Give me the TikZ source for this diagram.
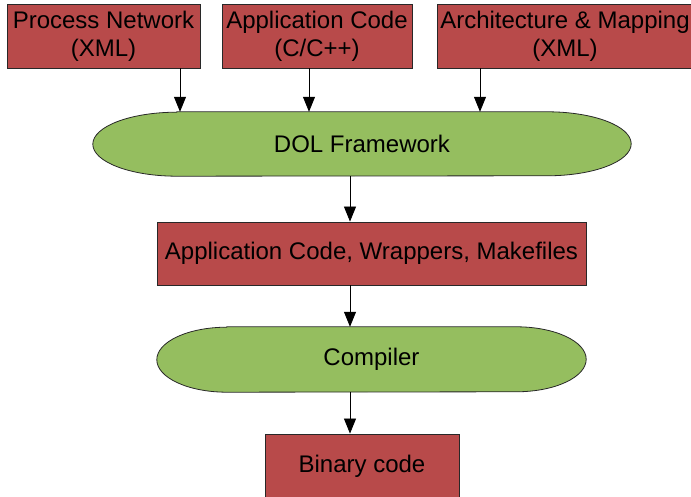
\documentclass[tikz,border=0pt]{standalone}
\usepackage{fontspec}
\setmainfont{Liberation Sans}
\usetikzlibrary{arrows.meta,backgrounds}
\definecolor{boxred}{RGB}{184,74,74}
\definecolor{capgreen}{RGB}{149,190,95}
\definecolor{edge}{RGB}{40,40,40}
\begin{document}
\begin{tikzpicture}[x=1pt,y=1pt,
  every node/.style={inner sep=0pt,align=center,font=\fontsize{24}{28}\selectfont},
  redbox/.style={draw=edge,line width=0.8pt,fill=boxred},
  capsule/.style={draw=edge,line width=0.8pt,fill=capgreen},
  arr/.style={line width=0.8pt,-{Triangle[width=12pt,length=15pt]}}]
\clip (0,0) rectangle (691,497);
\useasboundingbox (0,0) rectangle (691,497);

% inputs
\node[redbox,minimum width=193pt,minimum height=64pt] (pn)   at (103.5,461) {Process Network\\(XML)};
\node[redbox,minimum width=190pt,minimum height=64pt] (app)  at (317,461)   {Application Code\\(C/C++)};
\node[redbox,minimum width=256pt,minimum height=64pt] (arch) at (565,461)   {Architecture \& Mapping\\(XML)};

% framework and tool chain
\node[minimum width=538pt,minimum height=64pt] (dol)  at (362,353)   {DOL Framework};
\node[redbox,minimum width=429pt,minimum height=63pt] (wrap) at (371.5,243.5) {Application Code, Wrappers, Makefiles};
\node[minimum width=429pt,minimum height=65pt] (comp) at (371.5,137.5) {Compiler};
\node[redbox,minimum width=194pt,minimum height=64pt] (bin)  at (362,31)    {Binary code};

% capsule outlines behind the text: flat top and bottom, half-ellipse ends
\begin{scope}[on background layer]
  \path[capsule] ([xshift=84pt]dol.north west) -- ([xshift=-84pt]dol.north east)
    arc[start angle=90,end angle=-90,x radius=84,y radius=32]
    -- ([xshift=84pt]dol.south west)
    arc[start angle=270,end angle=90,x radius=84,y radius=32] -- cycle;
  \path[capsule] ([xshift=70pt]comp.north west) -- ([xshift=-70pt]comp.north east)
    arc[start angle=90,end angle=-90,x radius=70,y radius=32.5]
    -- ([xshift=70pt]comp.south west)
    arc[start angle=270,end angle=90,x radius=70,y radius=32.5] -- cycle;
\end{scope}

% connectors
\draw[arr] ([xshift=76.5pt]pn.south) -- ([xshift=76.5pt]pn.south |- dol.north);
\draw[arr] ([xshift=-8pt]app.south)  -- ([xshift=-8pt]app.south |- dol.north);
\draw[arr] ([xshift=-85pt]arch.south) -- ([xshift=-85pt]arch.south |- dol.north);
\coordinate (spine) at (350,0);
\draw[arr] (spine |- dol.south)  -- (spine |- wrap.north);
\draw[arr] (spine |- wrap.south) -- (spine |- comp.north);
\draw[arr] (spine |- comp.south) -- (spine |- bin.north);
\end{tikzpicture}
\end{document}
